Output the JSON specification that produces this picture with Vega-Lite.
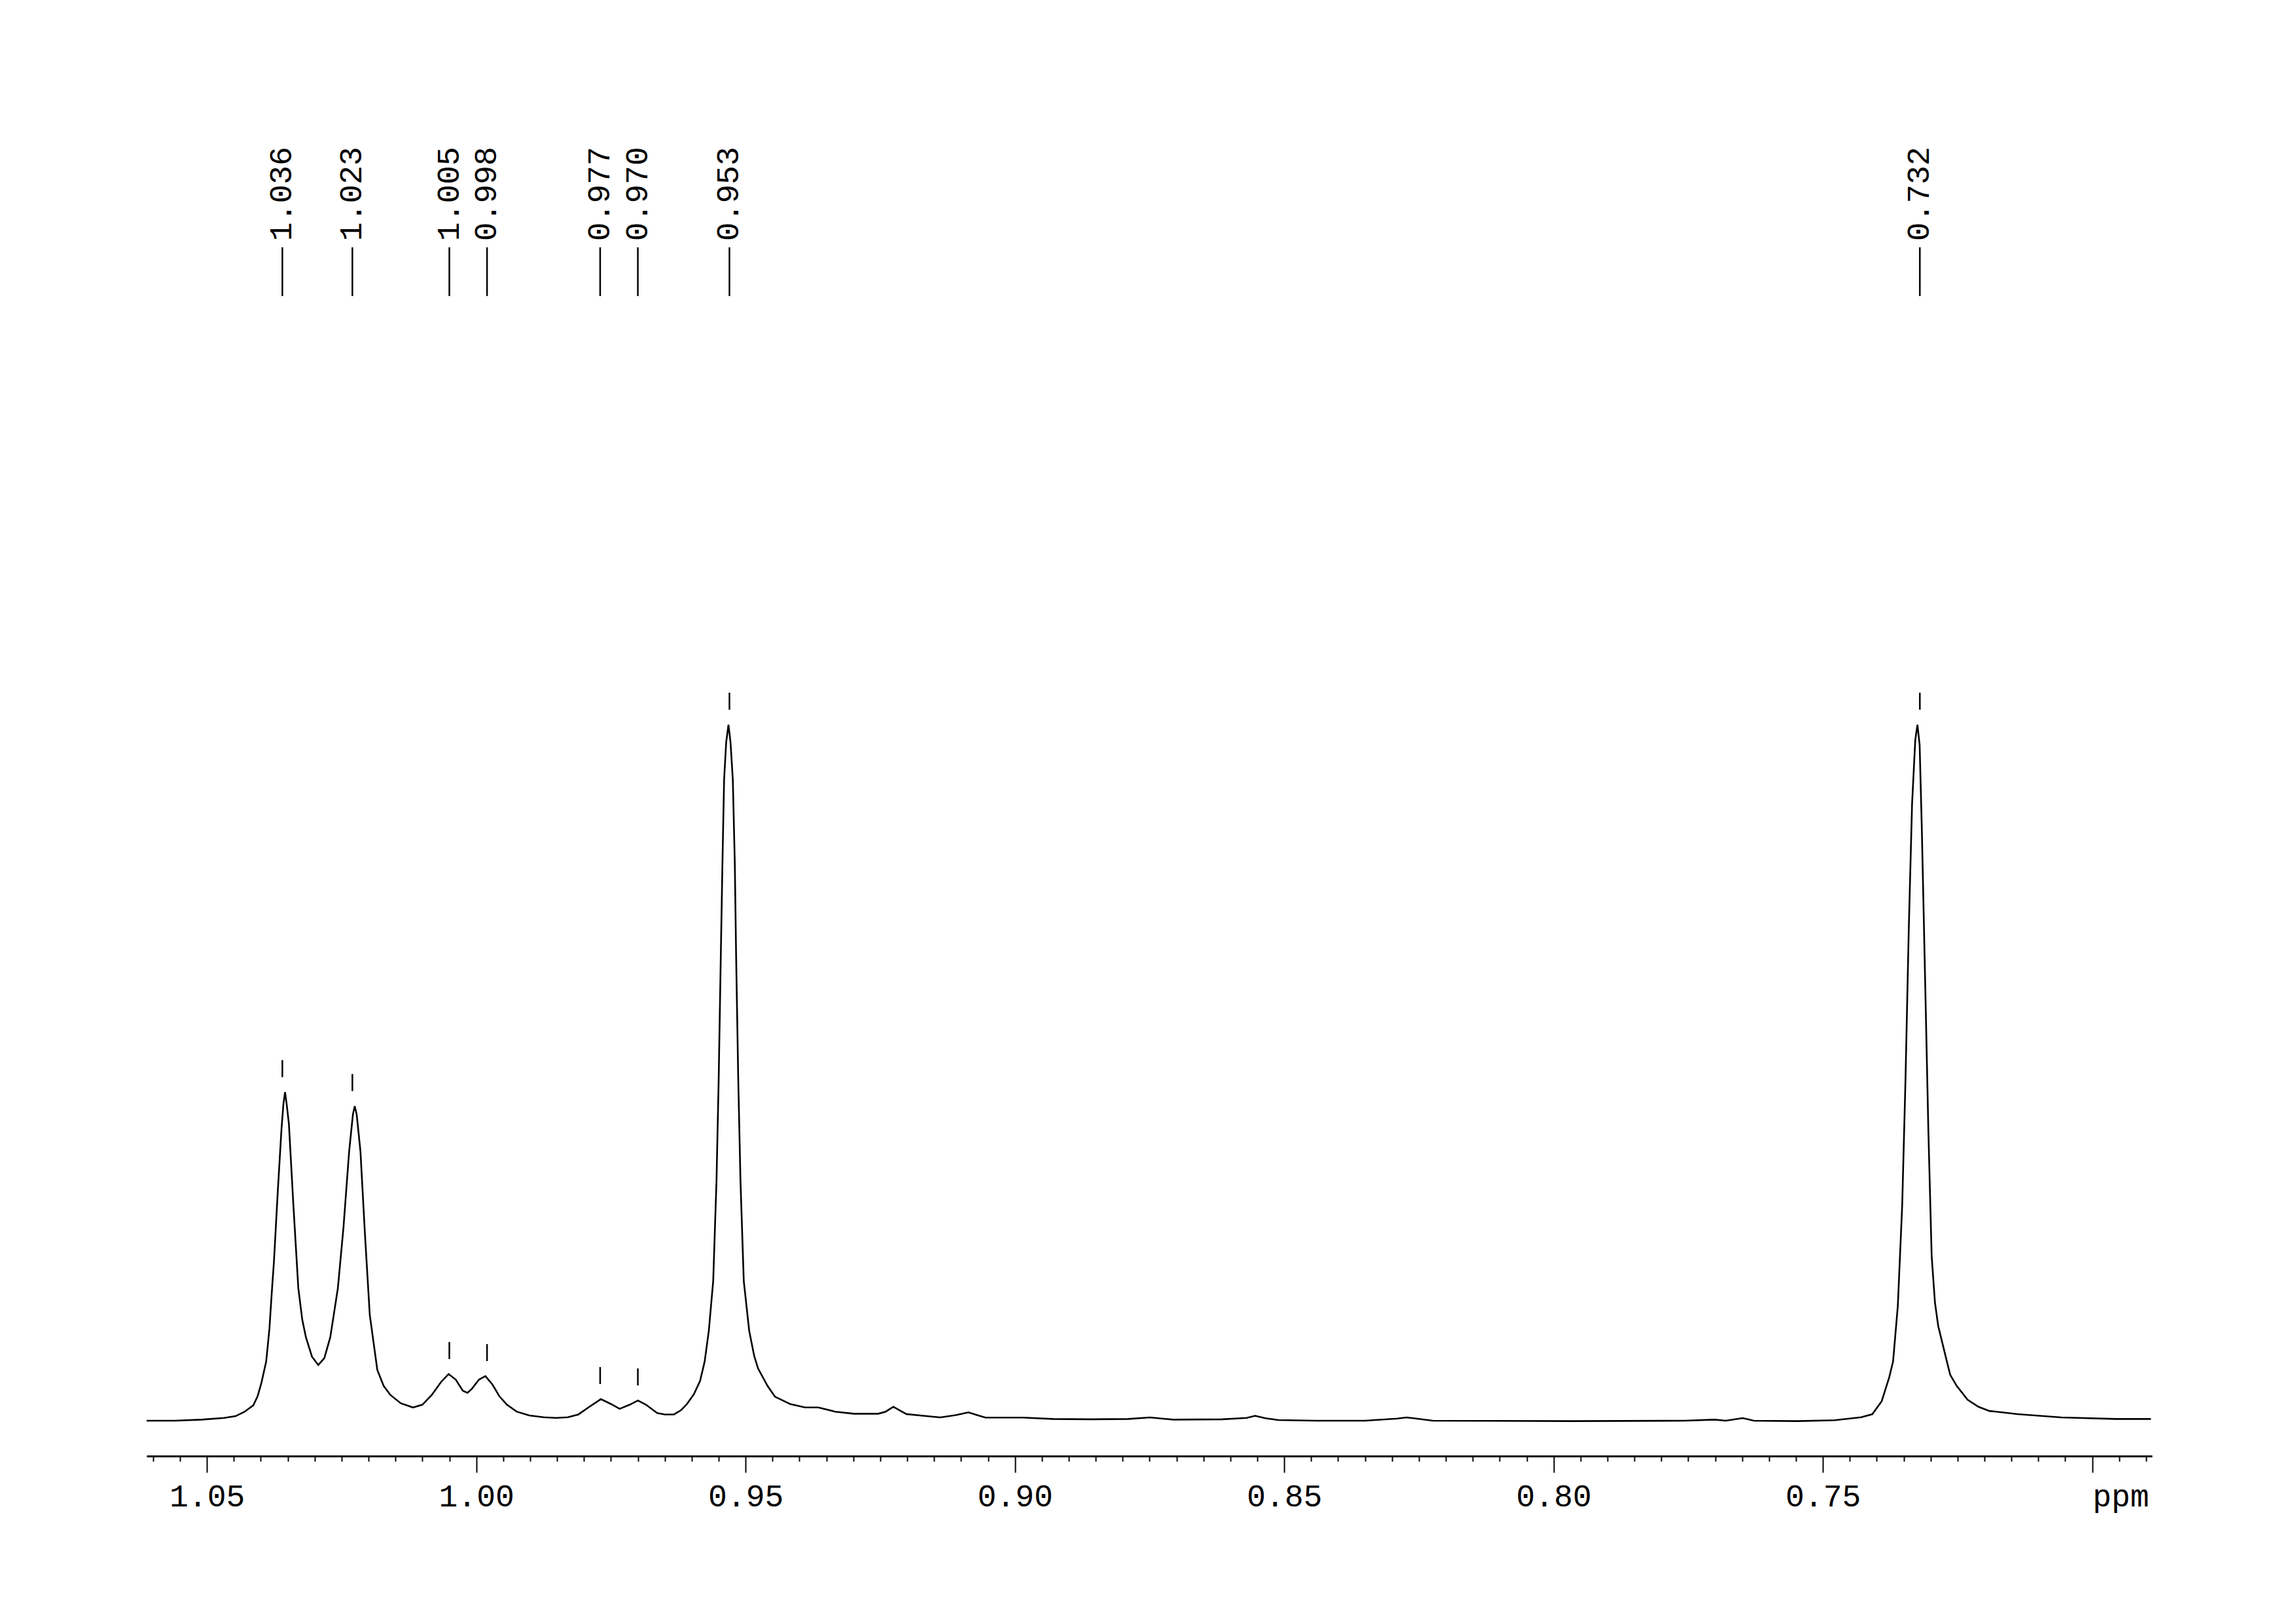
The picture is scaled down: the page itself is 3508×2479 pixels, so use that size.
{
  "$schema": "https://vega.github.io/schema/vega-lite/v6.json",
  "autosize": "none",
  "width": 3064,
  "height": 2100,
  "padding": {"left": 224, "top": 124, "right": 220, "bottom": 255},
  "background": "white",
  "config": {"view": {"stroke": null}},
  "datasets": {
    "spectrum": [
      {"ppm": 1.0612, "intensity": 0}, {"ppm": 1.056, "intensity": 0}, {"ppm": 1.051, "intensity": 0.15},
      {"ppm": 1.0468, "intensity": 0.4}, {"ppm": 1.0447, "intensity": 0.65}, {"ppm": 1.0431, "intensity": 1.25},
      {"ppm": 1.0414, "intensity": 2.2}, {"ppm": 1.0406, "intensity": 3.5}, {"ppm": 1.0399, "intensity": 5.4},
      {"ppm": 1.039, "intensity": 8.5}, {"ppm": 1.0384, "intensity": 13.2}, {"ppm": 1.038, "intensity": 18},
      {"ppm": 1.03755, "intensity": 23}, {"ppm": 1.03686, "intensity": 32.8}, {"ppm": 1.03616, "intensity": 41.9},
      {"ppm": 1.0358, "intensity": 45.5}, {"ppm": 1.0355, "intensity": 47.2}, {"ppm": 1.0352, "intensity": 45.5},
      {"ppm": 1.03478, "intensity": 42.6}, {"ppm": 1.03394, "intensity": 30.8}, {"ppm": 1.03303, "intensity": 19.0},
      {"ppm": 1.0323, "intensity": 14.5}, {"ppm": 1.03163, "intensity": 12.0}, {"ppm": 1.0305, "intensity": 9.2},
      {"ppm": 1.02933, "intensity": 8.0}, {"ppm": 1.0282, "intensity": 9.0}, {"ppm": 1.0271, "intensity": 12.0},
      {"ppm": 1.0257, "intensity": 19.0}, {"ppm": 1.02466, "intensity": 27.7}, {"ppm": 1.0236, "intensity": 38.7},
      {"ppm": 1.0229, "intensity": 44}, {"ppm": 1.02256, "intensity": 45.2}, {"ppm": 1.0222, "intensity": 44},
      {"ppm": 1.0215, "intensity": 38.7}, {"ppm": 1.02068, "intensity": 27.0}, {"ppm": 1.01977, "intensity": 15.2},
      {"ppm": 1.01837, "intensity": 7.3}, {"ppm": 1.0172, "intensity": 5.0}, {"ppm": 1.01594, "intensity": 3.7},
      {"ppm": 1.014, "intensity": 2.5}, {"ppm": 1.01175, "intensity": 1.9}, {"ppm": 1.01, "intensity": 2.3},
      {"ppm": 1.00826, "intensity": 3.7}, {"ppm": 1.0065, "intensity": 5.6}, {"ppm": 1.00513, "intensity": 6.7},
      {"ppm": 1.0038, "intensity": 5.9}, {"ppm": 1.0025, "intensity": 4.3}, {"ppm": 1.00164, "intensity": 4.0},
      {"ppm": 1.0008, "intensity": 4.6}, {"ppm": 0.9995, "intensity": 5.9}, {"ppm": 0.9983, "intensity": 6.4},
      {"ppm": 0.997, "intensity": 5.2}, {"ppm": 0.9957, "intensity": 3.5}, {"ppm": 0.99431, "intensity": 2.3},
      {"ppm": 0.9925, "intensity": 1.3}, {"ppm": 0.99015, "intensity": 0.75}, {"ppm": 0.9875, "intensity": 0.5},
      {"ppm": 0.98524, "intensity": 0.4}, {"ppm": 0.983, "intensity": 0.5}, {"ppm": 0.98104, "intensity": 0.9},
      {"ppm": 0.979, "intensity": 2.0}, {"ppm": 0.97687, "intensity": 3.1}, {"ppm": 0.975, "intensity": 2.4},
      {"ppm": 0.97339, "intensity": 1.7}, {"ppm": 0.9715, "intensity": 2.3}, {"ppm": 0.96999, "intensity": 2.9},
      {"ppm": 0.9685, "intensity": 2.3}, {"ppm": 0.96642, "intensity": 1.1}, {"ppm": 0.965, "intensity": 0.9},
      {"ppm": 0.9633, "intensity": 0.9}, {"ppm": 0.962, "intensity": 1.5}, {"ppm": 0.96088, "intensity": 2.4},
      {"ppm": 0.9596, "intensity": 3.8}, {"ppm": 0.95845, "intensity": 5.7}, {"ppm": 0.9576, "intensity": 8.5},
      {"ppm": 0.95683, "intensity": 12.9}, {"ppm": 0.95601, "intensity": 20.1}, {"ppm": 0.9554, "intensity": 34.5},
      {"ppm": 0.955, "intensity": 48.9}, {"ppm": 0.9546, "intensity": 66.9}, {"ppm": 0.9543, "intensity": 80},
      {"ppm": 0.95399, "intensity": 92.1}, {"ppm": 0.9536, "intensity": 97.5}, {"ppm": 0.95318, "intensity": 100},
      {"ppm": 0.9528, "intensity": 97.5}, {"ppm": 0.95237, "intensity": 92.1}, {"ppm": 0.952, "intensity": 80},
      {"ppm": 0.95176, "intensity": 66.9}, {"ppm": 0.95136, "intensity": 48.9}, {"ppm": 0.95095, "intensity": 34.5},
      {"ppm": 0.95034, "intensity": 20.1}, {"ppm": 0.94933, "intensity": 12.9}, {"ppm": 0.9484, "intensity": 9.3},
      {"ppm": 0.94768, "intensity": 7.5}, {"ppm": 0.94593, "intensity": 5.0}, {"ppm": 0.94455, "intensity": 3.45},
      {"ppm": 0.94175, "intensity": 2.4}, {"ppm": 0.93895, "intensity": 1.9}, {"ppm": 0.93651, "intensity": 1.9},
      {"ppm": 0.93338, "intensity": 1.3}, {"ppm": 0.9299, "intensity": 1.0}, {"ppm": 0.92536, "intensity": 1.0},
      {"ppm": 0.924, "intensity": 1.3}, {"ppm": 0.92257, "intensity": 2.0}, {"ppm": 0.9212, "intensity": 1.4},
      {"ppm": 0.92013, "intensity": 0.95}, {"ppm": 0.917, "intensity": 0.7}, {"ppm": 0.91386, "intensity": 0.47},
      {"ppm": 0.911, "intensity": 0.8}, {"ppm": 0.90863, "intensity": 1.2}, {"ppm": 0.907, "intensity": 0.8},
      {"ppm": 0.90547, "intensity": 0.44}, {"ppm": 0.89851, "intensity": 0.44}, {"ppm": 0.89295, "intensity": 0.25},
      {"ppm": 0.88595, "intensity": 0.2}, {"ppm": 0.87898, "intensity": 0.25}, {"ppm": 0.87492, "intensity": 0.47},
      {"ppm": 0.87059, "intensity": 0.15}, {"ppm": 0.86153, "intensity": 0.2}, {"ppm": 0.857, "intensity": 0.4},
      {"ppm": 0.8554, "intensity": 0.7}, {"ppm": 0.8535, "intensity": 0.35}, {"ppm": 0.85107, "intensity": 0.1},
      {"ppm": 0.8441, "intensity": 0}, {"ppm": 0.83499, "intensity": 0}, {"ppm": 0.829, "intensity": 0.3},
      {"ppm": 0.8273, "intensity": 0.47}, {"ppm": 0.8255, "intensity": 0.3}, {"ppm": 0.82243, "intensity": 0},
      {"ppm": 0.79662, "intensity": -0.06}, {"ppm": 0.7757, "intensity": 0}, {"ppm": 0.7701, "intensity": 0.15},
      {"ppm": 0.76804, "intensity": 0}, {"ppm": 0.76488, "intensity": 0.38}, {"ppm": 0.76282, "intensity": 0},
      {"ppm": 0.7548, "intensity": -0.06}, {"ppm": 0.74779, "intensity": 0.07}, {"ppm": 0.7429, "intensity": 0.5},
      {"ppm": 0.74082, "intensity": 0.94}, {"ppm": 0.73908, "intensity": 2.8}, {"ppm": 0.7377, "intensity": 6.2},
      {"ppm": 0.73697, "intensity": 8.5}, {"ppm": 0.73609, "intensity": 16.5}, {"ppm": 0.73528, "intensity": 30.9},
      {"ppm": 0.73467, "intensity": 48.9}, {"ppm": 0.73406, "intensity": 70.5}, {"ppm": 0.73345, "intensity": 88.5},
      {"ppm": 0.73285, "intensity": 97.8}, {"ppm": 0.73245, "intensity": 100}, {"ppm": 0.73204, "intensity": 97.1},
      {"ppm": 0.73163, "intensity": 84.9}, {"ppm": 0.73102, "intensity": 63.3}, {"ppm": 0.73042, "intensity": 41.7},
      {"ppm": 0.72981, "intensity": 23.7}, {"ppm": 0.7292, "intensity": 17}, {"ppm": 0.72859, "intensity": 13.6},
      {"ppm": 0.72698, "intensity": 8.5}, {"ppm": 0.72637, "intensity": 6.6}, {"ppm": 0.72516, "intensity": 5.0},
      {"ppm": 0.72313, "intensity": 3.0}, {"ppm": 0.72111, "intensity": 2.0}, {"ppm": 0.71908, "intensity": 1.4},
      {"ppm": 0.71382, "intensity": 0.94}, {"ppm": 0.70572, "intensity": 0.47}, {"ppm": 0.69559, "intensity": 0.25},
      {"ppm": 0.68911, "intensity": 0.25}
    ],
    "peaks": [
      {"ppm": 1.036, "height": 47.2, "label": "1.036"},
      {"ppm": 1.023, "height": 45.2, "label": "1.023"},
      {"ppm": 1.005, "height": 6.7, "label": "1.005"},
      {"ppm": 0.998, "height": 6.4, "label": "0.998"},
      {"ppm": 0.977, "height": 3.1, "label": "0.977"},
      {"ppm": 0.970, "height": 2.9, "label": "0.970"},
      {"ppm": 0.953, "height": 100, "label": "0.953"},
      {"ppm": 0.732, "height": 100, "label": "0.732"}
    ]
  },
  "layer": [
    {
      "data": {"name": "spectrum"},
      "mark": {"type": "line", "color": "black", "strokeWidth": 2.6},
      "encoding": {
        "x": {
          "field": "ppm", "type": "quantitative",
          "scale": {"domain": [0.6889, 1.0612], "reverse": true, "nice": false, "zero": false},
          "axis": {
            "title": null, "grid": false,
            "values": [1.06, 1.055, 1.05, 1.045, 1.04, 1.035, 1.03, 1.025, 1.02, 1.015, 1.01, 1.005, 1.0, 0.995, 0.99, 0.985, 0.98, 0.975, 0.97, 0.965, 0.96, 0.955, 0.95, 0.945, 0.94, 0.935, 0.93, 0.925, 0.92, 0.915, 0.91, 0.905, 0.9, 0.895, 0.89, 0.885, 0.88, 0.875, 0.87, 0.865, 0.86, 0.855, 0.85, 0.845, 0.84, 0.835, 0.83, 0.825, 0.82, 0.815, 0.81, 0.805, 0.8, 0.795, 0.79, 0.785, 0.78, 0.775, 0.77, 0.765, 0.76, 0.755, 0.75, 0.745, 0.74, 0.735, 0.73, 0.725, 0.72, 0.715, 0.71, 0.705, 0.7, 0.695, 0.69],
            "domainColor": "black", "domainWidth": 3,
            "tickColor": "black", "tickWidth": 2,
            "tickSize": {"condition": {"test": "abs(datum.value*20 - round(datum.value*20)) < 0.01", "value": 25}, "value": 8},
            "labelExpr": "abs(datum.value - 0.7) < 0.0001 ? 'ppm' : (abs(datum.value*20 - round(datum.value*20)) < 0.01 ? format(datum.value, '.2f') : '')",
            "labelAlign": {"condition": {"test": "abs(datum.value - 0.7) < 0.0001", "value": "left"}, "value": "center"},
            "labelFont": "Liberation Mono", "labelFontSize": 48, "labelColor": "black",
            "labelPadding": 13, "labelOverlap": false, "labelFlush": false, "labelBound": false
          }
        },
        "y": {
          "field": "intensity", "type": "quantitative",
          "scale": {"domain": [-5.08, 192.47], "nice": false, "zero": false},
          "axis": null
        }
      }
    },
    {
      "data": {"name": "peaks"},
      "mark": {"type": "rule", "color": "black", "strokeWidth": 2.5, "yOffset": -23, "y2Offset": -49},
      "encoding": {
        "x": {"field": "ppm", "type": "quantitative"},
        "y": {"field": "height", "type": "quantitative"},
        "y2": {"field": "height"}
      }
    },
    {
      "data": {"name": "peaks"},
      "mark": {"type": "rule", "color": "black", "strokeWidth": 2.5},
      "encoding": {
        "x": {"field": "ppm", "type": "quantitative"},
        "y": {"datum": 168.6},
        "y2": {"datum": 161.6}
      }
    },
    {
      "data": {"name": "peaks"},
      "mark": {"type": "text", "color": "black", "font": "Liberation Mono", "fontSize": 48, "angle": 270, "align": "left", "baseline": "middle"},
      "encoding": {
        "x": {"field": "ppm", "type": "quantitative"},
        "y": {"datum": 169.5},
        "text": {"field": "label"}
      }
    }
  ]
}
